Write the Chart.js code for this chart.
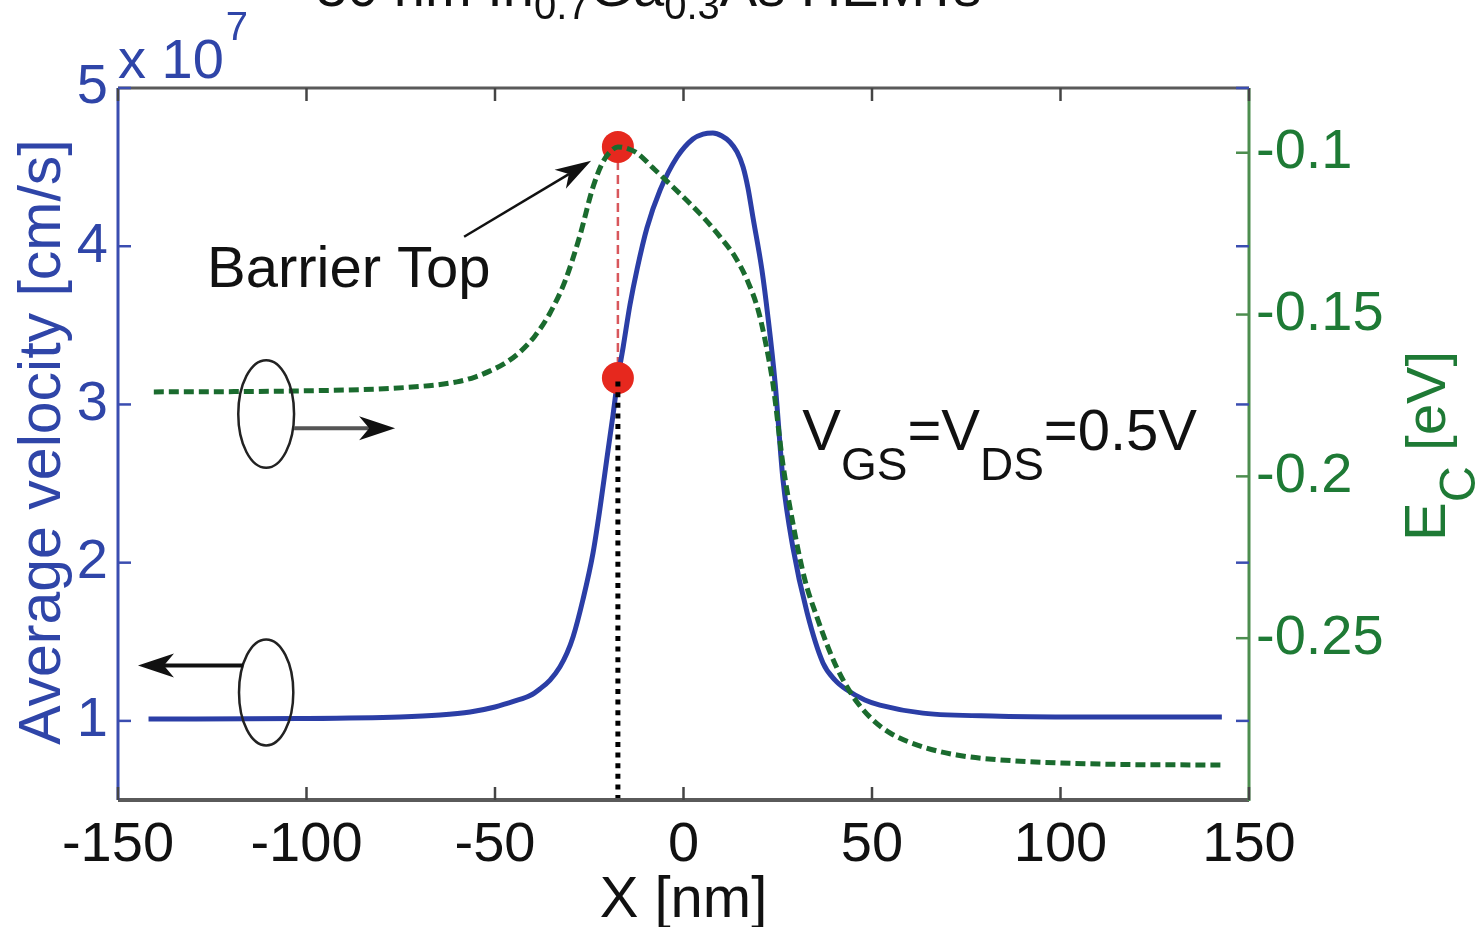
<!DOCTYPE html>
<html>
<head>
<meta charset="utf-8">
<title>30 nm In0.7Ga0.3As HEMTs</title>
<script src="https://cdn.jsdelivr.net/npm/chart.js@4.4.1/dist/chart.umd.min.js"></script>
<style>
  html, body { margin: 0; padding: 0; background: #fff; }
  #wrap { width: 1477px; height: 927px; position: relative; }
</style>
</head>
<body>
<div id="wrap"><canvas id="chart"></canvas></div>
<script>
// Position along the channel [nm] and average electron velocity [x1e7 cm/s]
const VEL_X = [-141.9, -101.7, -75.2, -64.6, -56.6, -50.0, -44.7, -40.7, -38.1, -35.4, -32.8, -30.9, -29.3, -26.7, -24.0, -22.1, -20.3, -18.7, -17.4, -16.0, -14.2, -12.3, -9.7, -6.2, -1.7, 2.5, 5.2, 7.8, 10.2, 12.3, 14.2, 15.8, 17.1, 18.4, 20.8, 22.4, 24.3, 26.4, 29.0, 32.8, 37.0, 40.2, 43.4, 48.1, 52.1, 63.5, 84.0, 110.5, 142.8];
const VEL_V = [1.012, 1.015, 1.025, 1.037, 1.056, 1.088, 1.126, 1.160, 1.202, 1.258, 1.341, 1.429, 1.530, 1.764, 2.061, 2.352, 2.662, 2.933, 3.167, 3.363, 3.629, 3.856, 4.115, 4.355, 4.564, 4.678, 4.709, 4.716, 4.697, 4.659, 4.596, 4.501, 4.368, 4.185, 3.850, 3.553, 3.136, 2.522, 2.099, 1.682, 1.366, 1.258, 1.195, 1.132, 1.100, 1.049, 1.030, 1.025, 1.025];

// Conduction band edge Ec [eV] along the channel
const EC_X = [-140.5, -101.7, -72.0, -60.1, -55.3, -51.3, -47.3, -43.4, -39.4, -35.4, -31.4, -27.5, -24.0, -21.4, -19.0, -17.4, -14.2, -12.3, -8.1, -2.8, 4.4, 9.7, 13.7, 17.1, 19.8, 21.9, 23.7, 26.4, 29.1, 32.2, 35.4, 38.1, 40.7, 43.4, 46.0, 50.0, 54.8, 63.5, 72.5, 84.0, 110.5, 142.8];
const EC_E = [-0.1739, -0.1736, -0.1724, -0.1708, -0.1693, -0.1674, -0.1650, -0.1616, -0.1566, -0.1495, -0.1396, -0.1257, -0.1106, -0.1029, -0.0992, -0.0982, -0.0990, -0.1001, -0.1047, -0.1106, -0.1189, -0.1260, -0.1322, -0.1399, -0.1486, -0.1594, -0.1712, -0.1965, -0.2150, -0.2320, -0.2435, -0.2521, -0.2592, -0.2651, -0.2697, -0.2750, -0.2793, -0.2836, -0.2861, -0.2876, -0.2889, -0.2892];

// Top of the barrier: its position, band energy and the velocity there
const BARRIER_X = [-17.4];
const BARRIER_EC = [-0.0982];
const BARRIER_V = [3.167];

// Axis ticks
const X_TICKS = [-150, -100, -50, 0, 50, 100, 150];
const V_TICKS = [1, 2, 3, 4, 5];
const EC_TICKS = [-0.1, -0.15, -0.2, -0.25];

const V_MIN = 0.5, V_MAX = 5;
const EC_MIN = -0.3, EC_MAX = -0.08;

const FAMILY = '"Liberation Sans", Arial, Helvetica, sans-serif';
const BLUE = '#2b3ea6';
const BLUE_AXIS = '#3a4db0';
const BLUE_TEXT = '#2f45a8';
const GREEN = '#1a6b2e';
const GREEN_AXIS = '#4d8d4f';
const GREEN_TEXT = '#1e7a35';
const FRAME = '#5a5a5a';

// Callout anchors, in data units (x in nm, v on the velocity axis)
const CALLOUTS = {
  barrierLabel: { x: -126.4, v: 3.74 },
  barrierArrow: { x1: -58.2, v1: 4.06, x2: -24.5, v2: 4.54 },
  ecEllipse: { x: -110.7, v: 2.94, rx: 7.4, rv: 0.34 },
  ecArrow: { x1: -103.3, v1: 2.85, x2: -76.5, v2: 2.85 },
  velEllipse: { x: -110.7, v: 1.18, rx: 7.2, rv: 0.335 },
  velArrow: { x1: -116.8, v1: 1.35, x2: -144.7, v2: 1.35 },
  biasLabel: { x: 31.5, v: 2.71 }
};

function pts(xs, ys) { return xs.map((x, i) => ({ x: x, y: ys[i] })); }
function fnt(px) { return px + 'px ' + FAMILY; }

function drawRuns(ctx, x, y, runs) {
  let cx = x;
  for (const r of runs) {
    ctx.font = fnt(r.size);
    ctx.fillText(r.t, cx, y + (r.dy || 0));
    cx += ctx.measureText(r.t).width;
  }
  return cx;
}

function arrow(ctx, x1, y1, x2, y2, len, half) {
  const a = Math.atan2(y2 - y1, x2 - x1);
  const c = Math.cos(a), s = Math.sin(a);
  const bx = x2 - len * c, by = y2 - len * s;
  const nx = x2 - len * 0.72 * c, ny = y2 - len * 0.72 * s;
  ctx.beginPath();
  ctx.moveTo(x1, y1);
  ctx.lineTo(nx, ny);
  ctx.stroke();
  ctx.beginPath();
  ctx.moveTo(x2, y2);
  ctx.lineTo(bx - s * half, by + c * half);
  ctx.lineTo(nx, ny);
  ctx.lineTo(bx + s * half, by - c * half);
  ctx.closePath();
  ctx.fill();
}

const framePlugin = {
  id: 'frame',
  beforeDatasetsDraw(chart) {
    // red dashed guide joining the two barrier-top markers
    const { ctx } = chart;
    const xs = chart.scales.x, yv = chart.scales.yV, ye = chart.scales.yE;
    const px = xs.getPixelForValue(BARRIER_X[0]);
    ctx.save();
    ctx.strokeStyle = '#d8575c';
    ctx.lineWidth = 2.5;
    ctx.setLineDash([9, 5]);
    ctx.beginPath();
    ctx.moveTo(px, ye.getPixelForValue(BARRIER_EC[0]));
    ctx.lineTo(px, yv.getPixelForValue(BARRIER_V[0]));
    ctx.stroke();
    ctx.restore();
  },
  afterDraw(chart) {
    const { ctx, chartArea: a } = chart;
    const xs = chart.scales.x, yv = chart.scales.yV, ye = chart.scales.yE;
    const X = v => xs.getPixelForValue(v);
    const V = v => yv.getPixelForValue(v);
    const E = v => ye.getPixelForValue(v);
    const dx = d => Math.abs(X(d) - X(0));
    const dv = d => Math.abs(V(d) - V(0));
    ctx.save();

    // box: gray top and bottom, coloured left and right spines
    ctx.lineCap = 'butt';
    ctx.strokeStyle = FRAME;
    ctx.lineWidth = 4;
    ctx.beginPath(); ctx.moveTo(a.left, a.bottom); ctx.lineTo(a.right, a.bottom); ctx.stroke();
    ctx.lineWidth = 3;
    ctx.beginPath(); ctx.moveTo(a.left, a.top); ctx.lineTo(a.right, a.top); ctx.stroke();
    ctx.strokeStyle = BLUE_AXIS;
    ctx.beginPath(); ctx.moveTo(a.left, a.top); ctx.lineTo(a.left, a.bottom); ctx.stroke();
    ctx.strokeStyle = GREEN_AXIS;
    ctx.beginPath(); ctx.moveTo(a.right, a.top); ctx.lineTo(a.right, a.bottom + 1); ctx.stroke();

    // inward tick marks
    const TL = 13;
    ctx.lineWidth = 2.5;
    ctx.strokeStyle = '#444';
    for (const t of X_TICKS) {
      const p = X(t);
      ctx.beginPath(); ctx.moveTo(p, a.bottom); ctx.lineTo(p, a.bottom - TL); ctx.stroke();
      ctx.beginPath(); ctx.moveTo(p, a.top); ctx.lineTo(p, a.top + TL); ctx.stroke();
    }
    ctx.strokeStyle = BLUE_AXIS;
    for (const t of V_TICKS) {
      const p = V(t);
      ctx.beginPath(); ctx.moveTo(a.left, p); ctx.lineTo(a.left + TL, p); ctx.stroke();
      ctx.beginPath(); ctx.moveTo(a.right, p); ctx.lineTo(a.right - TL, p); ctx.stroke();
    }
    ctx.strokeStyle = GREEN_AXIS;
    for (const t of EC_TICKS) {
      const p = E(t);
      ctx.beginPath(); ctx.moveTo(a.right, p); ctx.lineTo(a.right - TL, p); ctx.stroke();
    }

    // axis titles
    ctx.textBaseline = 'alphabetic';
    ctx.fillStyle = '#111';
    ctx.font = fnt(58);
    ctx.textAlign = 'center';
    ctx.fillText('X [nm]', (a.left + a.right) / 2, 917);

    ctx.save();
    ctx.translate(60, 442);
    ctx.rotate(-Math.PI / 2);
    ctx.fillStyle = BLUE_TEXT;
    ctx.font = fnt(59);
    ctx.textAlign = 'center';
    ctx.fillText('Average velocity [cm/s]', 0, 0);
    ctx.restore();

    ctx.save();
    ctx.translate(1445, 541);
    ctx.rotate(-Math.PI / 2);
    ctx.fillStyle = GREEN_TEXT;
    ctx.textAlign = 'left';
    drawRuns(ctx, 0, 0, [
      { t: 'E', size: 58 },
      { t: 'C', size: 50, dy: 30 },
      { t: ' [eV]', size: 56 }
    ]);
    ctx.restore();

    // exponent of the velocity axis
    ctx.fillStyle = BLUE_TEXT;
    ctx.textAlign = 'left';
    const ex = drawRuns(ctx, a.left, 78, [{ t: 'x 10', size: 56 }]);
    drawRuns(ctx, ex + 2, 40, [{ t: '7', size: 40 }]);

    // heading along the top edge
    ctx.fillStyle = '#111';
    drawRuns(ctx, 316, 6, [
      { t: '30 nm In', size: 56 },
      { t: '0.7', size: 40, dy: 13 },
      { t: 'Ga', size: 56 },
      { t: '0.3', size: 40, dy: 13 },
      { t: 'As HEMTs', size: 56 }
    ]);

    // callouts
    const c = CALLOUTS;
    ctx.fillStyle = '#111';
    drawRuns(ctx, X(c.barrierLabel.x), V(c.barrierLabel.v), [{ t: 'Barrier Top', size: 58 }]);
    drawRuns(ctx, X(c.biasLabel.x), V(c.biasLabel.v), [
      { t: 'V', size: 58 },
      { t: 'GS', size: 46, dy: 30 },
      { t: '=V', size: 58 },
      { t: 'DS', size: 46, dy: 30 },
      { t: '=0.5V', size: 58 }
    ]);

    ctx.strokeStyle = '#111';
    ctx.fillStyle = '#111';
    ctx.lineWidth = 2.5;
    arrow(ctx, X(c.barrierArrow.x1), V(c.barrierArrow.v1), X(c.barrierArrow.x2), V(c.barrierArrow.v2), 36, 11);

    ctx.lineWidth = 2.5;
    ctx.strokeStyle = '#222';
    for (const e of [c.ecEllipse, c.velEllipse]) {
      ctx.beginPath();
      ctx.ellipse(X(e.x), V(e.v), dx(e.rx), dv(e.rv), 0, 0, Math.PI * 2);
      ctx.stroke();
    }
    ctx.lineWidth = 4;
    ctx.strokeStyle = '#555';
    arrow(ctx, X(c.ecArrow.x1), V(c.ecArrow.v1), X(c.ecArrow.x2), V(c.ecArrow.v2), 36, 12);
    ctx.strokeStyle = '#111';
    arrow(ctx, X(c.velArrow.x1), V(c.velArrow.v1), X(c.velArrow.x2), V(c.velArrow.v2), 36, 12);

    ctx.restore();
  }
};

const tickFont = { family: FAMILY, size: 56 };

new Chart(document.getElementById('chart'), {
  type: 'scatter',
  data: {
    datasets: [
      {
        label: 'Barrier top (dotted)',
        data: [{ x: BARRIER_X[0], y: V_MIN }, { x: BARRIER_X[0], y: BARRIER_V[0] }],
        yAxisID: 'yV', showLine: true, borderColor: '#000', borderWidth: 5,
        borderDash: [5, 5.6], pointRadius: 0, order: 0
      },
      {
        label: 'Ec',
        data: pts(EC_X, EC_E),
        yAxisID: 'yE', showLine: true, borderColor: GREEN, borderWidth: 5,
        borderDash: [10, 5], pointRadius: 0, cubicInterpolationMode: 'monotone', order: 1
      },
      {
        label: 'Ec at barrier top',
        data: pts(BARRIER_X, BARRIER_EC),
        yAxisID: 'yE', pointRadius: 16, backgroundColor: '#e6281e', borderWidth: 0, order: 2
      },
      {
        label: 'Velocity at barrier top',
        data: pts(BARRIER_X, BARRIER_V),
        yAxisID: 'yV', pointRadius: 16, backgroundColor: '#e6281e', borderWidth: 0, order: 2
      },
      {
        label: 'Average velocity',
        data: pts(VEL_X, VEL_V),
        yAxisID: 'yV', showLine: true, borderColor: BLUE, borderWidth: 5,
        pointRadius: 0, cubicInterpolationMode: 'monotone', order: 3
      }
    ]
  },
  options: {
    responsive: true,
    maintainAspectRatio: false,
    animation: false,
    events: [],
    layout: { padding: { top: 88, left: 0, right: 0, bottom: 0 } },
    plugins: { legend: { display: false }, tooltip: { enabled: false }, title: { display: false } },
    scales: {
      x: {
        type: 'linear', position: 'bottom', min: -150, max: 150,
        afterFit: s => { s.height = 127; },
        afterBuildTicks: s => { s.ticks = X_TICKS.map(v => ({ value: v })); },
        grid: { display: false, drawTicks: false }, border: { display: false },
        ticks: { font: tickFont, color: '#111', padding: 12, maxRotation: 0, autoSkip: false, callback: v => String(v) }
      },
      yV: {
        type: 'linear', position: 'left', min: V_MIN, max: V_MAX,
        afterFit: s => { s.width = 118; },
        afterBuildTicks: s => { s.ticks = V_TICKS.map(v => ({ value: v })); },
        grid: { display: false, drawTicks: false }, border: { display: false },
        ticks: { font: tickFont, color: BLUE_TEXT, padding: 10, autoSkip: false, callback: v => String(v) }
      },
      yE: {
        type: 'linear', position: 'right', min: EC_MIN, max: EC_MAX,
        afterFit: s => { s.width = 228; },
        afterBuildTicks: s => { s.ticks = EC_TICKS.map(v => ({ value: v })); },
        grid: { display: false, drawTicks: false }, border: { display: false },
        ticks: { font: tickFont, color: GREEN_TEXT, padding: 7, autoSkip: false, callback: v => String(v) }
      }
    }
  },
  plugins: [framePlugin]
});
</script>
</body>
</html>
